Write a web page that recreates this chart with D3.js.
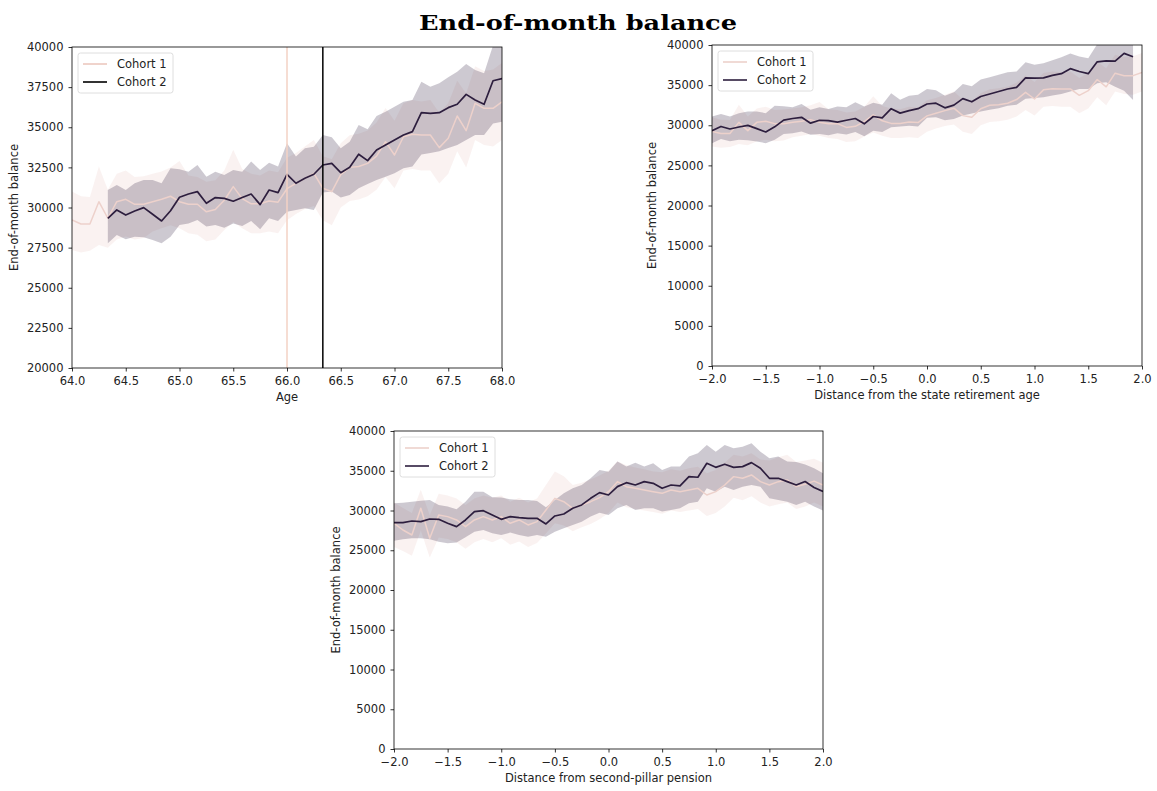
<!DOCTYPE html>
<html>
<head>
<meta charset="utf-8">
<script src="https://cdn.jsdelivr.net/npm/d3@7"></script>
<style>
  body { margin: 0; background: #fff; }
  svg { display: block; font-family: "DejaVu Sans", sans-serif; }
</style>
</head>
<body>
<svg id="fig" width="1157" height="791"></svg>
<script>
// ---- Data: monthly end-of-month balance with 95% confidence band ----

// Cohort 1: ages 64.0 to 68.0, one value per month; state retirement age 66.0
const cohort1StartAge = 64;
const cohort1RetirementAge = 66;
const cohort1Mean = [29220, 28970, 28970, 30360, 29330, 30360, 30510, 30200, 30200, 30360,
  30510, 30700, 30360, 30200, 30200, 29730, 29870, 30450, 31300, 30550,
  30230, 30230, 30400, 30330, 31170, 31500, 31820, 32130, 31200, 30990,
  32050, 32500, 32550, 32750, 33200, 34100, 33270, 34410, 34560, 34520,
  34520, 33730, 34310, 35700, 34790, 36490, 36180, 36180, 36590];
const cohort1Upper = [30990, 30700, 30650, 32550, 31100, 32100, 32300, 31900, 31950, 32100,
  32250, 32500, 32900, 32000, 31900, 31600, 31700, 32300, 33600, 32400,
  32100, 32000, 32300, 32200, 33100, 33400, 33800, 34200, 33200, 33000,
  34000, 34500, 34600, 34800, 35300, 36200, 35400, 36500, 36700, 36600,
  36700, 35900, 36500, 37900, 37100, 38800, 38500, 38600, 39000];
const cohort1Lower = [27350, 27200, 27300, 27660, 27500, 28000, 28200, 28000, 28100, 28500,
  28700, 28900, 28700, 28400, 28300, 27900, 28000, 28600, 29100, 28700,
  28400, 28400, 28500, 28400, 29200, 29600, 29900, 30100, 29200, 28900,
  30000, 30400, 30500, 30700, 31100, 31900, 31200, 32300, 32400, 32300,
  32300, 31500, 32100, 33500, 32500, 34200, 33900, 33800, 34200];

// Cohort 2: from age 64 years 4 months, one value per month; state retirement age 66 y 4 m
const cohort2StartAge = 64 + 4 / 12;
const cohort2RetirementAge = 66 + 4 / 12;
const cohort2Mean = [29330, 29850, 29530, 29780, 29990, 29580, 29160, 29800, 30640, 30840,
  30990, 30260, 30620, 30570, 30390, 30620, 30840, 30180, 31090, 30930,
  32070, 31510, 31820, 32070, 32650, 32750, 32170, 32510, 33320, 32920,
  33580, 33900, 34210, 34520, 34730, 35910, 35870, 35910, 36220, 36430,
  37050, 36700, 36430, 37900, 38030, 38000, 38960, 38540];
const cohort2Upper = [31090, 31400, 31090, 31510, 31710, 31710, 31510, 32440, 32380, 32230,
  32650, 31920, 32230, 32030, 32340, 32230, 32860, 32340, 32790, 32550,
  34000, 33170, 33690, 33790, 34520, 34370, 33690, 34100, 35140, 34870,
  35700, 35970, 36280, 36590, 36700, 37840, 37530, 37740, 38110, 38460,
  38940, 38570, 38360, 40100, 40400, 40500, 41000, 42500];
const cohort2Lower = [27770, 28290, 28020, 28180, 28140, 27980, 27770, 28180, 28910, 29010,
  29220, 28810, 28910, 28740, 29010, 28850, 29160, 28640, 29330, 29160,
  29740, 29850, 29950, 29850, 30930, 30990, 30630, 30780, 31200, 31470,
  31710, 31920, 32130, 32440, 32550, 33300, 33400, 33500, 33700, 33900,
  34210, 34520, 34520, 35240, 35350, 34800, 34300, 33150];

// Around the second-pillar pension: distance -2.0 to 2.0 years, monthly
const pillarStart = -2;
const pillarC1Mean = [28390, 27550, 26920, 30280, 26500, 29440, 29230, 28810, 27970, 28810,
  29230, 28810, 29230, 28390, 28810, 28180, 28600, 30070, 31530, 31110,
  30280, 30700, 31110, 31620, 32370, 33630, 33000, 32790, 32580, 32370,
  32160, 32580, 32370, 32580, 32790, 31950, 32370, 33210, 34260, 34050,
  34470, 33630, 33210, 33630, 33840, 33000, 33300, 33700, 33200];
const pillarC1Upper = [31000, 30300, 29700, 32600, 29400, 32100, 31900, 31500, 30700, 31500,
  31900, 31600, 31900, 31100, 31600, 31000, 31500, 33200, 34900, 34300,
  33200, 33500, 33900, 34400, 35000, 36200, 35700, 35400, 35200, 34900,
  34800, 35200, 35000, 35300, 35500, 34700, 35100, 36000, 37000, 36800,
  37200, 36400, 36300, 36700, 37000, 36100, 36300, 36500, 36000];
const pillarC1Lower = [25400, 24900, 24300, 27500, 24100, 26600, 26400, 26000, 25200, 26000,
  26400, 26000, 26500, 25700, 26100, 25400, 25900, 27100, 28400, 28100,
  27400, 27900, 28300, 28900, 29700, 31000, 30400, 30200, 30000, 29800,
  29600, 30000, 29800, 30000, 30200, 29300, 29700, 30500, 31600, 31300,
  31800, 31000, 30500, 30800, 31000, 30200, 30500, 31000, 30500];
const pillarC2Mean = [28470, 28470, 28680, 28600, 28930, 28890, 28390, 27970, 28810, 29860,
  29980, 29440, 28890, 29230, 29100, 29020, 29020, 28310, 29310, 29560,
  30280, 30700, 31530, 32250, 31950, 33000, 33500, 33210, 33630, 33420,
  32790, 33210, 33090, 34260, 34180, 35940, 35430, 35810, 35430, 35520,
  36020, 35310, 34050, 34050, 33630, 33210, 33650, 32900, 32400];
const pillarC2Upper = [30900, 30990, 31110, 31240, 31320, 30700, 30490, 30150, 31110, 32370,
  32370, 31660, 31620, 31410, 31320, 31320, 31200, 30400, 31320, 32160,
  32790, 33210, 34050, 35100, 34890, 36150, 35520, 36020, 35520, 35940,
  35100, 35520, 35520, 36780, 37200, 38240, 37400, 38240, 37820, 38030,
  38450, 37400, 36570, 36780, 36150, 36100, 35800, 35300, 34700];
const pillarC2Lower = [26210, 26380, 26500, 26500, 26380, 26080, 25870, 25960, 26630, 27340,
  27550, 27130, 26920, 27220, 26920, 26710, 26920, 26710, 27340, 27760,
  28180, 28600, 29230, 29730, 29440, 30280, 30700, 30070, 30280, 30280,
  29860, 30070, 30280, 30900, 31110, 32790, 32370, 33000, 32580, 33000,
  33210, 33000, 31530, 31320, 31110, 30700, 31100, 30500, 30000];

// Axis ticks
const ageTicks = [64.0, 64.5, 65.0, 65.5, 66.0, 66.5, 67.0, 67.5, 68.0];
const ageBalanceTicks = [20000, 22500, 25000, 27500, 30000, 32500, 35000, 37500, 40000];
const distanceTicks = [-2.0, -1.5, -1.0, -0.5, 0.0, 0.5, 1.0, 1.5, 2.0];
const distanceBalanceTicks = [0, 5000, 10000, 15000, 20000, 25000, 30000, 35000, 40000];

const seriesNames = ["Cohort 1", "Cohort 2"];
const colorC1 = "#edd1cb";
const colorC2 = "#2d1e3e";

// ---- Helpers ----
function monthly(start, mean, lower, upper) {
  return mean.map((m, i) => ({ x: start + i / 12, m, lo: lower[i], hi: upper[i] }));
}

const svg = d3.select("#fig");

svg.append("text")
  .attr("x", 578).attr("y", 30)
  .attr("text-anchor", "middle")
  .attr("font-family", "'DejaVu Serif', serif")
  .attr("font-weight", "bold")
  .attr("font-size", 20)
  .attr("textLength", 318)
  .attr("lengthAdjust", "spacingAndGlyphs")
  .text("End-of-month balance");

let clipId = 0;
function panel(cfg) {
  const x = d3.scaleLinear().domain(cfg.xDomain).range([cfg.left, cfg.right]);
  const y = d3.scaleLinear().domain(cfg.yDomain).range([cfg.bottom, cfg.top]);
  const g = svg.append("g");
  const id = "clip" + (clipId++);
  g.append("clipPath").attr("id", id).append("rect")
    .attr("x", cfg.left).attr("y", cfg.top)
    .attr("width", cfg.right - cfg.left).attr("height", cfg.bottom - cfg.top);
  const plot = g.append("g").attr("clip-path", `url(#${id})`);

  const area = d3.area().x(d => x(d.x)).y0(d => y(d.lo)).y1(d => y(d.hi));
  const line = d3.line().x(d => x(d.x)).y(d => y(d.m));

  cfg.series.forEach(s => {
    plot.append("path").datum(s.data).attr("d", area)
      .attr("fill", s.color).attr("fill-opacity", s.bandOpacity).attr("stroke", "none");
  });
  cfg.series.forEach(s => {
    plot.append("path").datum(s.data).attr("d", line)
      .attr("fill", "none").attr("stroke", s.color).attr("stroke-width", s.width)
      .attr("stroke-linejoin", "round");
  });
  (cfg.vlines || []).forEach(v => {
    plot.append("line")
      .attr("x1", x(v.x)).attr("x2", x(v.x)).attr("y1", cfg.top).attr("y2", cfg.bottom)
      .attr("stroke", v.color).attr("stroke-width", 1.5);
  });

  // axes
  const xa = g.append("g").attr("transform", `translate(0,${cfg.bottom})`)
    .call(d3.axisBottom(x).tickValues(cfg.xTicks).tickFormat(d3.format(".1f"))
      .tickSize(3.5).tickPadding(5));
  const ya = g.append("g").attr("transform", `translate(${cfg.left},0)`)
    .call(d3.axisLeft(y).tickValues(cfg.yTicks).tickFormat(d3.format("d"))
      .tickSize(3.5).tickPadding(5));
  [xa, ya].forEach(a => {
    a.select(".domain").remove();
    a.selectAll(".tick line").attr("stroke", "#000").attr("stroke-width", 0.8);
    a.selectAll(".tick text").attr("fill", "#222").attr("font-size", 11.5)
      .attr("font-family", "'DejaVu Sans', sans-serif");
  });

  // spines
  g.append("rect")
    .attr("x", cfg.left).attr("y", cfg.top)
    .attr("width", cfg.right - cfg.left).attr("height", cfg.bottom - cfg.top)
    .attr("fill", "none").attr("stroke", "#000").attr("stroke-width", 0.8);

  // axis labels
  g.append("text")
    .attr("x", (cfg.left + cfg.right) / 2).attr("y", cfg.bottom + 33)
    .attr("text-anchor", "middle").attr("font-size", 11.5).attr("fill", "#222")
    .text(cfg.xLabel);
  g.append("text")
    .attr("transform", `translate(${cfg.yLabelX},${(cfg.top + cfg.bottom) / 2}) rotate(-90)`)
    .attr("text-anchor", "middle").attr("dy", "0.35em")
    .attr("font-size", 11.5).attr("fill", "#222")
    .text("End-of-month balance");

  // legend
  const lx = cfg.left + 6, ly = cfg.top + 6;
  const lg = g.append("g");
  lg.append("rect").attr("x", lx).attr("y", ly).attr("width", 95).attr("height", 40)
    .attr("rx", 2.5).attr("fill", "#fff").attr("fill-opacity", 0.85)
    .attr("stroke", "#d6d6d6").attr("stroke-width", 0.8);
  seriesNames.forEach((name, i) => {
    const yy = ly + 11 + i * 18;
    lg.append("line").attr("x1", lx + 5).attr("x2", lx + 29).attr("y1", yy).attr("y2", yy)
      .attr("stroke", cfg.legendColors[i]).attr("stroke-width", 1.6);
    lg.append("text").attr("x", lx + 39).attr("y", yy).attr("dy", "0.36em")
      .attr("font-size", 11.5).attr("fill", "#222").text(name);
  });
}

// Panel 1: by age
panel({
  left: 72, right: 502, top: 47, bottom: 368,
  xDomain: [64, 68], yDomain: [20000, 40000],
  xTicks: ageTicks, yTicks: ageBalanceTicks,
  xLabel: "Age", yLabelX: 14,
  series: [
    { data: monthly(cohort1StartAge, cohort1Mean, cohort1Lower, cohort1Upper), color: colorC1, bandOpacity: 0.28, width: 1.5 },
    { data: monthly(cohort2StartAge, cohort2Mean, cohort2Lower, cohort2Upper), color: colorC2, bandOpacity: 0.24, width: 1.7 }
  ],
  vlines: [
    { x: cohort1RetirementAge, color: "#f3d2c4" },
    { x: cohort2RetirementAge, color: "#000" }
  ],
  legendColors: ["#ecc8bf", "#000"]
});

// Panel 2: distance from the state retirement age
panel({
  left: 712, right: 1142, top: 45, bottom: 366,
  xDomain: [-2, 2], yDomain: [0, 40000],
  xTicks: distanceTicks, yTicks: distanceBalanceTicks,
  xLabel: "Distance from the state retirement age", yLabelX: 652,
  series: [
    { data: monthly(cohort1StartAge - cohort1RetirementAge, cohort1Mean, cohort1Lower, cohort1Upper), color: colorC1, bandOpacity: 0.28, width: 1.5 },
    { data: monthly(cohort2StartAge - cohort2RetirementAge, cohort2Mean, cohort2Lower, cohort2Upper), color: colorC2, bandOpacity: 0.24, width: 1.7 }
  ],
  legendColors: [colorC1, colorC2]
});

// Panel 3: distance from second-pillar pension
panel({
  left: 394, right: 823, top: 431, bottom: 749,
  xDomain: [-2, 2], yDomain: [0, 40000],
  xTicks: distanceTicks, yTicks: distanceBalanceTicks,
  xLabel: "Distance from second-pillar pension", yLabelX: 336,
  series: [
    { data: monthly(pillarStart, pillarC1Mean, pillarC1Lower, pillarC1Upper), color: colorC1, bandOpacity: 0.28, width: 1.5 },
    { data: monthly(pillarStart, pillarC2Mean, pillarC2Lower, pillarC2Upper), color: colorC2, bandOpacity: 0.24, width: 1.7 }
  ],
  legendColors: [colorC1, colorC2]
});
</script>
</body>
</html>
